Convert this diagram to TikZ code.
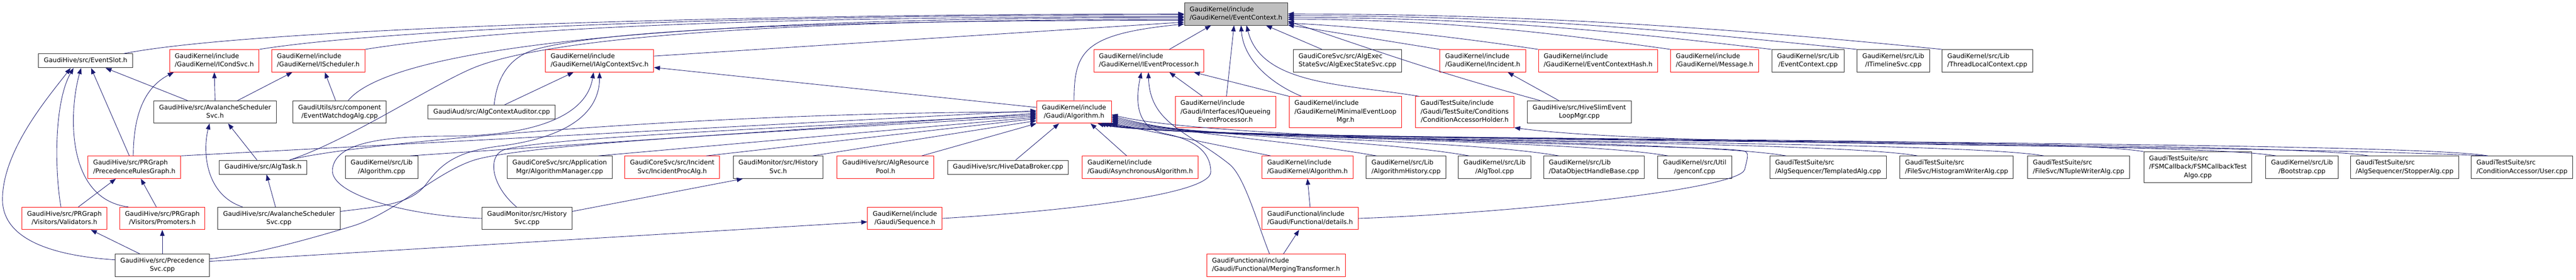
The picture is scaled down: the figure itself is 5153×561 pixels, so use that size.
\documentclass[tikz,border=0pt]{standalone}
\usepackage{fontspec}
\setmainfont{DejaVu Sans}
\usetikzlibrary{arrows.meta}
\definecolor{edgeblue}{HTML}{191970}
\definecolor{nodered}{HTML}{FF0000}
\definecolor{nodegray}{HTML}{BFBFBF}
\newcommand{\labone}[1]{\begin{tabular}{@{}c@{}}#1\end{tabular}}
\newcommand{\labtwo}[2]{\begin{tabular}{@{}l@{}}#1\\\multicolumn{1}{@{}c@{}}{#2}\end{tabular}}
\newcommand{\labthree}[3]{\begin{tabular}{@{}l@{}}#1\\#2\\\multicolumn{1}{@{}c@{}}{#3}\end{tabular}}
\begin{document}
\begin{tikzpicture}[x=1pt, y=-1pt,
    blackbox/.style={draw=black!85, line width=1pt, fill=white, inner xsep=10.5pt, inner ysep=5.5pt, font=\fontsize{12.8}{17}\selectfont},
    redbox/.style={blackbox, draw=nodered},
    topbox/.style={blackbox, fill=nodegray},
    dep/.style={draw=edgeblue, line width=0.9pt, {Triangle[length=12pt,width=9pt]}-}]
    \useasboundingbox (0, 0) rectangle (5153, 561);

    % 一段目
    \node[topbox] (ec) at (2472.5, 28) {\labtwo{GaudiKernel/include}{/GaudiKernel/EventContext.h}};

    % 二段目
    \node[blackbox] (slot) at (171.2, 122) {\labone{GaudiHive/src/EventSlot.h}};
    \node[redbox] (icond) at (428.7, 122) {\labtwo{GaudiKernel/include}{/GaudiKernel/ICondSvc.h}};
    \node[redbox] (isched) at (636.8, 122) {\labtwo{GaudiKernel/include}{/GaudiKernel/IScheduler.h}};
    \node[redbox] (ialgctx) at (1199.3, 122) {\labtwo{GaudiKernel/include}{/GaudiKernel/IAlgContextSvc.h}};
    \node[redbox] (ievtproc) at (2298.2, 122) {\labtwo{GaudiKernel/include}{/GaudiKernel/IEventProcessor.h}};
    \node[blackbox] (execstate) at (2695.4, 122) {\labtwo{GaudiCoreSvc/src/AlgExec}{StateSvc/AlgExecStateSvc.cpp}};
    \node[redbox] (incident) at (2966, 122) {\labtwo{GaudiKernel/include}{/GaudiKernel/Incident.h}};
    \node[redbox] (echash) at (3196.8, 122) {\labtwo{GaudiKernel/include}{/GaudiKernel/EventContextHash.h}};
    \node[redbox] (message) at (3429.8, 122) {\labtwo{GaudiKernel/include}{/GaudiKernel/Message.h}};
    \node[blackbox] (eccpp) at (3616.8, 122) {\labtwo{GaudiKernel/src/Lib}{/EventContext.cpp}};
    \node[blackbox] (timeline) at (3787.4, 122) {\labtwo{GaudiKernel/src/Lib}{/ITimelineSvc.cpp}};
    \node[blackbox] (tlctx) at (3975.4, 122) {\labtwo{GaudiKernel/src/Lib}{/ThreadLocalContext.cpp}};

    % 三段目
    \node[blackbox] (avsh) at (430.2, 224.7) {\labtwo{GaudiHive/src/AvalancheScheduler}{Svc.h}};
    \node[blackbox] (watchdog) at (679.4, 224.7) {\labtwo{GaudiUtils/src/component}{/EventWatchdogAlg.cpp}};
    \node[blackbox] (auditor) at (983.5, 224.7) {\labone{GaudiAud/src/AlgContextAuditor.cpp}};
    \node[redbox] (galg) at (2148.5, 224.7) {\labtwo{GaudiKernel/include}{/Gaudi/Algorithm.h}};
    \node[redbox] (iqueue) at (2451.4, 224.7) {\labthree{GaudiKernel/include}{/Gaudi/Interfaces/IQueueing}{EventProcessor.h}};
    \node[redbox] (minimal) at (2691.5, 224.7) {\labthree{GaudiKernel/include}{/GaudiKernel/MinimalEventLoop}{Mgr.h}};
    \node[redbox] (condholder) at (2929.9, 224.7) {\labthree{GaudiTestSuite/include}{/Gaudi/TestSuite/Conditions}{/ConditionAccessorHolder.h}};
    \node[blackbox] (hiveslim) at (3159.2, 224.7) {\labtwo{GaudiHive/src/HiveSlimEvent}{LoopMgr.cpp}};

    % 四段目
    \node[redbox] (prg) at (268.7, 335.6) {\labtwo{GaudiHive/src/PRGraph}{/PrecedenceRulesGraph.h}};
    \node[blackbox] (algtask) at (526.2, 335.6) {\labone{GaudiHive/src/AlgTask.h}};
    \node[blackbox] (algcpp) at (763.4, 335.6) {\labtwo{GaudiKernel/src/Lib}{/Algorithm.cpp}};
    \node[blackbox] (algmgr) at (1119.5, 335.6) {\labtwo{GaudiCoreSvc/src/Application}{Mgr/AlgorithmManager.cpp}};
    \node[redbox] (incproc) at (1344.7, 335.6) {\labtwo{GaudiCoreSvc/src/Incident}{Svc/IncidentProcAlg.h}};
    \node[blackbox] (histh) at (1556.8, 335.6) {\labtwo{GaudiMonitor/src/History}{Svc.h}};
    \node[redbox] (respool) at (1771.5, 335.6) {\labtwo{GaudiHive/src/AlgResource}{Pool.h}};
    \node[blackbox] (broker) at (2016.6, 335.6) {\labone{GaudiHive/src/HiveDataBroker.cpp}};
    \node[redbox] (async) at (2280.8, 335.6) {\labtwo{GaudiKernel/include}{/Gaudi/AsynchronousAlgorithm.h}};
    \node[redbox] (gkalg) at (2615.4, 335.6) {\labtwo{GaudiKernel/include}{/GaudiKernel/Algorithm.h}};
    \node[blackbox] (alghist) at (2812.6, 335.6) {\labtwo{GaudiKernel/src/Lib}{/AlgorithmHistory.cpp}};
    \node[blackbox] (algtool) at (2989.8, 335.6) {\labtwo{GaudiKernel/src/Lib}{/AlgTool.cpp}};
    \node[blackbox] (dohb) at (3188.4, 335.6) {\labtwo{GaudiKernel/src/Lib}{/DataObjectHandleBase.cpp}};
    \node[blackbox] (genconf) at (3390, 335.6) {\labtwo{GaudiKernel/src/Util}{/genconf.cpp}};
    \node[blackbox] (templ) at (3656.8, 335.6) {\labtwo{GaudiTestSuite/src}{/AlgSequencer/TemplatedAlg.cpp}};
    \node[blackbox] (histw) at (3914, 335.6) {\labtwo{GaudiTestSuite/src}{/FileSvc/HistogramWriterAlg.cpp}};
    \node[blackbox] (ntw) at (4158, 335.6) {\labtwo{GaudiTestSuite/src}{/FileSvc/NTupleWriterAlg.cpp}};
    \node[blackbox] (fsm) at (4396.5, 335.6) {\labthree{GaudiTestSuite/src}{/FSMCallback/FSMCallbackTest}{Algo.cpp}};
    \node[blackbox] (boot) at (4604.9, 335.6) {\labtwo{GaudiKernel/src/Lib}{/Bootstrap.cpp}};
    \node[blackbox] (stopper) at (4810, 335.6) {\labtwo{GaudiTestSuite/src}{/AlgSequencer/StopperAlg.cpp}};
    \node[blackbox] (user) at (5044.8, 335.6) {\labtwo{GaudiTestSuite/src}{/ConditionAccessor/User.cpp}};

    % 五段目
    \node[redbox] (valid) at (128.8, 438.1) {\labtwo{GaudiHive/src/PRGraph}{/Visitors/Validators.h}};
    \node[redbox] (promo) at (324.7, 438.1) {\labtwo{GaudiHive/src/PRGraph}{/Visitors/Promoters.h}};
    \node[blackbox] (avscpp) at (558.1, 438.1) {\labtwo{GaudiHive/src/AvalancheScheduler}{Svc.cpp}};
    \node[blackbox] (histcpp) at (1054.2, 438.1) {\labtwo{GaudiMonitor/src/History}{Svc.cpp}};
    \node[redbox] (seq) at (1810.1, 438.1) {\labtwo{GaudiKernel/include}{/Gaudi/Sequence.h}};
    \node[redbox] (details) at (2620.7, 438.1) {\labtwo{GaudiFunctional/include}{/Gaudi/Functional/details.h}};

    % 六段目
    \node[blackbox] (precsvc) at (324.7, 532.2) {\labtwo{GaudiHive/src/Precedence}{Svc.cpp}};
    \node[redbox] (merging) at (2552.5, 532.2) {\labtwo{GaudiFunctional/include}{/Gaudi/Functional/MergingTransformer.h}};

    % EventContext.h へ
    \draw[dep] (ec.180) .. controls +(-900,0) and +(250,-50) .. ([xshift=-18pt]slot.north east);
    \draw[dep] (ec.181) .. controls +(-900,0) and +(250,-40) .. (icond.north east);
    \draw[dep] (ec.183) .. controls +(-900,0) and +(250,-40) .. (isched.north east);
    \draw[dep] (ec.184) .. controls +(-1000,0) and +(90,-110) .. ([xshift=17pt]watchdog.north);
    \draw[dep] (ec.186) .. controls +(-800,0) and +(150,-60) .. (950,135) .. controls +(-80,32) and +(120,-40) .. ([xshift=-35pt]algtask.north east);
    \draw[dep] (ec.187) .. controls +(-700,0) and +(150,-40) .. (1075,98) .. controls +(-60,16) and +(5,-50) .. ([xshift=5pt]auditor.north);
    \draw[dep] (ec.189) -- (ialgctx.5);
    \draw[dep] (ec.191) .. controls +(-200,20) and +(0,-100) .. (galg.north);
    \draw[dep] ([xshift=-50pt]ec.south) -- ([xshift=41pt]ievtproc.north);
    \draw[dep] ([xshift=-4pt]ec.south) -- ([xshift=2pt]iqueue.north);
    \draw[dep] ([xshift=10pt]ec.south) .. controls +(5,70) and +(-60,-25) .. ([xshift=-88pt]minimal.north);
    \draw[dep] ([xshift=21pt]ec.south) .. controls +(30,120) and +(-150,-25) .. ([xshift=8pt]condholder.north west);
    \draw[dep] ([xshift=60pt]ec.south) -- ([xshift=-51pt]execstate.north);
    \draw[dep] (ec.348) -- (incident.north west);
    \draw[dep] (ec.350) .. controls +(200,10) and +(-100,-15) .. (echash.north west);
    \draw[dep] (ec.352) .. controls +(180,60) and +(-220,-60) .. ([xshift=26pt]hiveslim.north west);
    \draw[dep] (ec.354) .. controls +(300,0) and +(-250,-35) .. (message.north west);
    \draw[dep] (ec.356) .. controls +(400,0) and +(-300,-35) .. (eccpp.north west);
    \draw[dep] (ec.358) .. controls +(500,0) and +(-350,-35) .. (timeline.north west);
    \draw[dep] (ec.east) .. controls +(500,0) and +(-400,-40) .. (tlctx.north west);

    % 左側
    \draw[dep] ([xshift=40pt]slot.south) -- ([xshift=-55pt]avsh.north);
    \draw[dep] (icond.south) -- (avsh.north);
    \draw[dep] ([xshift=-52pt]isched.south) -- ([xshift=45pt]avsh.north);
    \draw[dep] ([xshift=13pt]isched.south) -- ([xshift=-8pt]watchdog.north);
    \draw[dep] ([xshift=11pt]slot.south) -- ([xshift=-10pt]prg.north);
    \draw[dep] ([xshift=-81pt]icond.south) .. controls +(-58,30) and +(0,-83) .. ([xshift=-2pt]prg.north);
    \draw[dep] ([xshift=-24pt]slot.south) .. controls +(-37,64) and +(-14,-86) .. ([xshift=-7pt]valid.north);
    \draw[dep] ([xshift=-9pt]slot.south) .. controls +(-24,84) and +(-127,-16) .. ([xshift=-68pt]promo.north);
    \draw[dep] ([xshift=-30pt]slot.south) .. controls +(-41,54) and +(0,-100) .. (5,400) .. controls +(0,70) and +(-149,-10) .. ([yshift=11pt]precsvc.west);
    \draw[dep] ([xshift=-37pt]prg.south) -- ([xshift=28pt]valid.north);
    \draw[dep] ([xshift=13pt]prg.south) -- ([xshift=-12pt]promo.north);
    \draw[dep] ([xshift=53pt]valid.south) -- ([xshift=-45pt]precsvc.north);
    \draw[dep] (promo.south) -- (precsvc.north);
    \draw[dep] ([xshift=-11pt]avsh.south) .. controls +(-14,55) and +(-75,-25) .. ([xshift=-73pt]avscpp.north);
    \draw[dep] ([xshift=26pt]avsh.south) -- ([xshift=-12pt]algtask.north);
    \draw[dep] ([xshift=7pt]algtask.south) -- ([xshift=-7pt]avscpp.north);

    % IAlgContextSvc.h へ
    \draw[dep] ([xshift=-52pt]ialgctx.south) -- ([xshift=26pt]auditor.north);
    \draw[dep] (ialgctx.353) -- (galg.173);
    \draw[dep] ([xshift=-12pt]ialgctx.south) .. controls +(-15,95) and +(150,0) .. (900,273) .. controls +(-150,0) and +(5,-50) .. (665,340) .. controls +(-5,50) and +(-150,-5) .. (histcpp.west);
    \draw[dep] (ialgctx.south) .. controls +(0,90) and +(120,-15) .. (1000,293) .. controls +(-90,11) and +(30,-40) .. (852,370) .. controls +(-30,40) and +(80,-10) .. ([yshift=14pt]avscpp.east);
    \draw[dep] ([xshift=-71pt]histh.south) -- ([yshift=14pt]histcpp.east);

    % Gaudi/Algorithm.h へ（左から）
    \draw[dep] (galg.178) -- (prg.north east);
    \draw[dep] (galg.180) .. controls +(-700,0) and +(100,-30) .. ([xshift=-35pt]algtask.north east);
    \draw[dep] (galg.182) -- ([xshift=-16pt]algcpp.north east);
    \draw[dep] (galg.184) .. controls (1600,255) and (1100,275) .. (1010,300) .. controls (975,310) and (980,370) .. ([xshift=-21pt]histcpp.north);
    \draw[dep] (galg.186) .. controls (1600,262) and (1100,285) .. (960,318) .. controls (880,337) and (790,430) .. (700,455) .. controls (600,485) and (500,512) .. ([yshift=13pt]precsvc.east);
    \draw[dep] (galg.188) -- ([xshift=-28pt]algmgr.north east);
    \draw[dep] (galg.190) -- ([xshift=-27pt]incproc.north east);
    \draw[dep] (galg.193) -- ([xshift=-22pt]histh.north east);
    \draw[dep] (galg.south west) -- ([xshift=-25pt]respool.north east);
    \draw[dep] ([xshift=-30pt]galg.south) -- ([xshift=15pt]broker.north);
    \draw[dep] ([xshift=33pt]galg.south) -- ([xshift=-27pt]async.north);
    \draw[dep] (galg.south east) -- ([xshift=18pt]gkalg.north west);

    % Gaudi/Algorithm.h へ（右から）
    \draw[dep] (galg.354) .. controls +(150,40) and +(-200,-35) .. ([xshift=21pt]alghist.north west);
    \draw[dep] (galg.352) .. controls +(150,40) and +(-200,-35) .. ([xshift=22pt]algtool.north west);
    \draw[dep] (galg.350) .. controls +(150,40) and +(-200,-35) .. ([xshift=31pt]dohb.north west);
    \draw[dep] (galg.348) .. controls +(150,40) and +(-200,-35) .. ([xshift=21pt]genconf.north west);
    \draw[dep] (galg.346) .. controls +(150,40) and +(-200,-35) .. ([xshift=33pt]templ.north west);
    \draw[dep] (galg.344) .. controls +(150,40) and +(-200,-35) .. ([xshift=36pt]histw.north west);
    \draw[dep] (galg.342) .. controls +(150,40) and +(-200,-35) .. ([xshift=33pt]ntw.north west);
    \draw[dep] (galg.340) .. controls +(150,40) and +(-200,-35) .. (fsm.north west);
    \draw[dep] (galg.338) .. controls +(150,40) and +(-200,-35) .. ([xshift=21pt]boot.north west);
    \draw[dep] (galg.336) .. controls +(150,40) and +(-200,-35) .. ([xshift=37pt]stopper.north west);
    \draw[dep] (galg.334) .. controls +(150,40) and +(-200,-35) .. ([xshift=34pt]user.north west);
    \draw[dep] (galg.356) .. controls +(200,50) and +(-150,-10) .. (3460,300) .. controls +(40,3) and +(10,-40) .. (3490,340) .. controls +(-10,40) and +(300,-10) .. (details.east);
    \draw[dep] (condholder.south east) .. controls +(300,40) and +(-600,-25) .. ([xshift=34pt]user.north west);

    % IEventProcessor.h へ
    \draw[dep] ([xshift=41pt]ievtproc.south) -- ([xshift=-46pt]iqueue.north);
    \draw[dep] ([xshift=90pt]ievtproc.south) -- (minimal.north west);
    \draw[dep] ([xshift=-15pt]ievtproc.south) .. controls +(-15,70) and +(-50,-10) .. (2330,268) .. controls +(60,12) and +(0,-40) .. (2422,345) .. controls +(0,45) and +(250,-15) .. (seq.east);
    \draw[dep] ([xshift=-1pt]ievtproc.south) .. controls +(3,105) and +(-80,-65) .. (2460,330) .. controls +(30,25) and +(-24,-60) .. ([xshift=-13pt]merging.north);

    % その他
    \draw[dep] ([yshift=-7pt]seq.west) -- ([yshift=8pt]precsvc.east);
    \draw[dep] (gkalg.south) -- (details.north);
    \draw[dep] ([xshift=-22pt]details.south) -- ([xshift=15pt]merging.north);
    \draw[dep] ([xshift=50pt]incident.south) -- ([xshift=-41pt]hiveslim.north);
\end{tikzpicture}
\end{document}
